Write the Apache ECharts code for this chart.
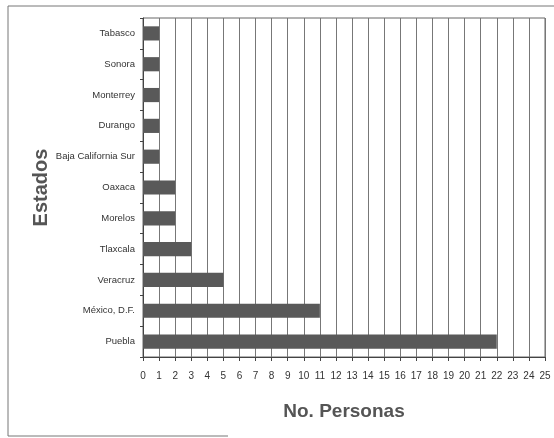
<!DOCTYPE html>
<html>
<head>
<meta charset="utf-8">
<script src="https://cdn.jsdelivr.net/npm/echarts@6/dist/echarts.min.js"></script>
<style>
  html, body { margin: 0; padding: 0; background: #fff; }
  #chart { width: 554px; height: 438px; }
</style>
</head>
<body>
<div id="chart"></div>
<script>
// categories listed bottom to top (category axis starts at the bottom)
var estados = ['Puebla', 'México, D.F.', 'Veracruz', 'Tlaxcala', 'Morelos', 'Oaxaca',
  'Baja California Sur', 'Durango', 'Monterrey', 'Sonora', 'Tabasco'];
var personas = [22, 11, 5, 3, 2, 2, 1, 1, 1, 1, 1];
var xMax = 25;

var myChart = echarts.init(document.getElementById('chart'));
myChart.setOption({
  animation: false,
  textStyle: { fontFamily: 'Liberation Sans, Arial, sans-serif', color: '#333' },
  grid: {
    left: 143, right: 9, top: 18, bottom: 81,
    show: true, borderColor: '#666', borderWidth: 1
  },
  xAxis: {
    type: 'value',
    min: 0, max: xMax, interval: 1,
    name: 'No. Personas',
    nameLocation: 'middle',
    nameGap: 45,
    nameTextStyle: { fontSize: 19, fontWeight: 'bold', color: '#555' },
    axisLine: { show: true, lineStyle: { color: '#444' } },
    axisTick: { show: true, length: 4, lineStyle: { color: '#444' } },
    axisLabel: { fontSize: 10, color: '#333', margin: 14 },
    splitLine: { show: true, lineStyle: { color: '#777', width: 1 } }
  },
  yAxis: {
    type: 'category',
    data: estados,
    name: 'Estados',
    nameLocation: 'middle',
    nameRotate: 90,
    nameGap: 92,
    nameMoveOverlap: false,
    nameTextStyle: { fontSize: 20, fontWeight: 'bold', color: '#555' },
    axisLine: { show: true, lineStyle: { color: '#444' } },
    axisTick: { show: true, length: 3, lineStyle: { color: '#444' } },
    axisLabel: { fontSize: 9.5, color: '#333', margin: 8 },
    splitLine: { show: false }
  },
  series: [{
    type: 'bar',
    data: personas,
    barWidth: '46%',
    itemStyle: { color: '#595959' }
  }],
  graphic: [{
    type: 'polyline',
    shape: { points: [[554, 6], [8, 6], [8, 436], [228, 436]] },
    style: { stroke: '#777', lineWidth: 1, fill: null }
  }]
});
</script>
</body>
</html>
